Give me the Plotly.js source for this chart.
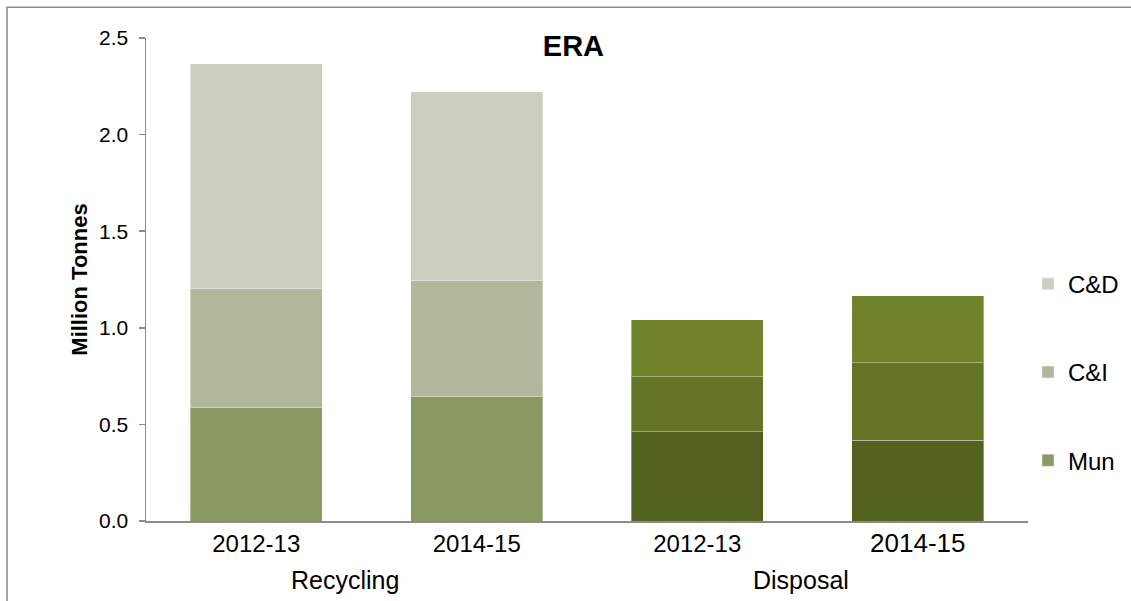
<!DOCTYPE html>
<html><head><meta charset="utf-8">
<script src="https://cdn.plot.ly/plotly-3.0.1.min.js"></script>
<style>html,body{margin:0;padding:0;background:#fff}#chart{width:1131px;height:601px}</style>
</head><body><div id="chart"></div>
<script>
// Categories
const groups = ["Recycling", "Recycling", "Disposal", "Disposal"];
const years = ["2012-13", "2014-15", "2012-13", "2014-15"];
const groupNames = ["Recycling", "Disposal"];
// Series values (million tonnes)
const munValues = [0.585, 0.642, 0.461, 0.417];
const ciValues  = [0.617, 0.604, 0.285, 0.402];
const cdValues  = [1.166, 0.975, 0.296, 0.347];
const seriesNames = ["Mun", "C&I", "C&D"];
// Colours per bar
const munColors = ["#8a9964", "#8a9964", "#53621f", "#53621f"];
const ciColors  = ["#afb89a", "#afb89a", "#647425", "#647425"];
const cdColors  = ["#c9d0bd", "#c9d0bd", "#71842c", "#71842c"];
const yTicks = [0, 0.5, 1.0, 1.5, 2.0, 2.5];

const FONT = "Liberation Sans, Arial, sans-serif";
const edge = {color: "rgba(255,255,255,0.35)", width: 1};
const xKeys = groups.map((g, i) => g + " " + years[i]);
const tickSizes = [24, 24, 24, 26];
const tickText = years.map((y, i) => '<span style="font-size:' + tickSizes[i] + 'px">' + y + '</span>');

function mk(name, vals, cols, rank) {
  return {
    type: "bar", name: name, x: xKeys, y: vals,
    marker: {color: cols, line: edge},
    legendgroup: name, legendrank: rank, hoverinfo: "y+name"
  };
}
const data = [
  mk(seriesNames[0], munValues, munColors, 3),
  mk(seriesNames[1], ciValues, ciColors, 2),
  mk(seriesNames[2], cdValues, cdColors, 1)
];

const layout = {
  width: 1131, height: 601,
  margin: {l: 146, r: 103, t: 38, b: 80, autoexpand: false},
  paper_bgcolor: "#ffffff", plot_bgcolor: "#ffffff",
  font: {family: FONT, color: "#000000", size: 21},
  barmode: "stack", bargap: 0.4,
  title: {text: "<b>ERA</b>", font: {family: FONT, size: 29, color: "#000"},
          x: 0.507, xref: "container", xanchor: "center",
          y: 0.923, yref: "container", yanchor: "middle"},
  xaxis: {
    type: "category", showline: true, linecolor: "#8c8c8c", linewidth: 2,
    ticks: "", showgrid: false, zeroline: false, automargin: false,
    tickmode: "array", tickvals: xKeys, ticktext: tickText,
    tickfont: {family: FONT, size: 24, color: "#000"}
  },
  yaxis: {
    range: [0, 2.5], tickvals: yTicks, tickformat: ".1f",
    showline: true, linecolor: "#8c8c8c", linewidth: 1.5,
    ticks: "outside", ticklen: 6, tickcolor: "#8c8c8c", tickwidth: 1.5,
    showgrid: false, zeroline: false, automargin: false,
    ticklabelstandoff: 6,
    tickfont: {family: FONT, size: 21, color: "#000"},
    title: {text: "<b>Million Tonnes</b>", font: {family: FONT, size: 22, color: "#000"}, standoff: 5}
  },
  legend: {
    x: 1.0, xanchor: "left", y: 0.308, yanchor: "middle",
    font: {family: FONT, size: 24, color: "#000"},
    traceorder: "grouped", tracegroupgap: 54,
    bgcolor: "rgba(0,0,0,0)", borderwidth: 0
  },
  annotations: [
    {text: groupNames[0], xref: "x", yref: "paper", x: 0.401, y: -0.123,
     xanchor: "center", yanchor: "middle", showarrow: false,
     font: {family: FONT, size: 25, color: "#000"}},
    {text: groupNames[1], xref: "x", yref: "paper", x: 2.471, y: -0.123,
     xanchor: "center", yanchor: "middle", showarrow: false,
     font: {family: FONT, size: 25, color: "#000"}}
  ],
  shapes: [{
    type: "rect", xref: "paper", yref: "paper",
    x0: (7 - 146) / 882, x1: 1.3, y0: -0.3, y1: (520.7 - 7) / 483,
    line: {color: "#8c8c8c", width: 1.5}, fillcolor: "rgba(0,0,0,0)", layer: "below"
  }]
};

Plotly.newPlot("chart", data, layout, {displayModeBar: false, staticPlot: true});
</script>
</body></html>
